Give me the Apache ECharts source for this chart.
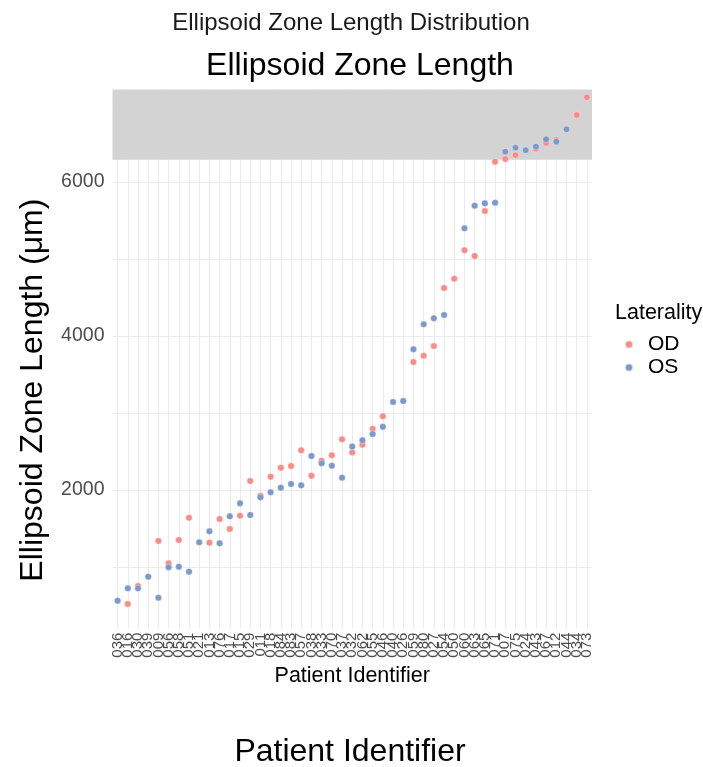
<!DOCTYPE html>
<html>
<head>
<meta charset="utf-8">
<script src="https://cdn.jsdelivr.net/npm/echarts@6/dist/echarts.min.js"></script>
<style>
  html, body { margin: 0; padding: 0; background: #fff; }
  #chart { width: 703px; height: 767px; }
</style>
</head>
<body>
<div id="chart"></div>
<script>
// Patient identifiers, ordered by ellipsoid zone length
const patients = [
  '036','016','030','039','009','056','058','051','021','013',
  '076','017','015','029','011','018','084','083','057','038',
  '033','070','037','032','062','055','046','040','026','059',
  '080','027','054','050','060','063','065','071','007','075',
  '024','043','067','012','044','034','073'
];

// Right eye (OD) lengths in µm, null where not measured
const odValues = [
  null, 520, 753, null, 1338, 1048, 1351, 1640, null, 1316,
  1623, 1494, 1666, 2117, 1926, 2173, 2290, 2312, 2515, 2186,
  2381, 2451, 2658, 2488, 2588, 2796, 2957, null, null, 3662,
  3744, 3870, 4623, 4744, 5113, 5039, 5623, 6264, 6299, 6347,
  null, 6433, 6506, 6545, null, 6870, 7100
];

// Left eye (OS) lengths in µm
const osValues = [
  562, 723, 723, 874, 601, 996, 1004, 939, 1321, 1463,
  1308, 1658, 1827, 1675, 1905, 1970, 2030, 2078, 2061, 2442,
  2346, 2316, 2160, 2565, 2645, 2727, 2822, 3143, 3156, 3827,
  4152, 4230, 4273, null, 5398, 5692, 5723, 5731, 6394, 6446,
  6412, 6459, 6554, 6524, 6684, null, null
];

const yTickLabels = [2000, 4000, 6000];
const yGridValues = [1000, 2000, 3000, 4000, 5000, 6000, 7000];
const stripFrom = 6290;

const FONT = '"Liberation Sans", Arial, Helvetica, sans-serif';
const RED = '#F98C87';
const BLUE = '#7B99C9';

const chart = echarts.init(document.getElementById('chart'), null, { renderer: 'canvas' });

const gridLines = yGridValues.map(v => ({ yAxis: v }))
  .concat(patients.map(p => ({ xAxis: p })));

chart.setOption({
  animation: false,
  backgroundColor: '#ffffff',
  textStyle: { fontFamily: FONT },
  title: [
    {
      text: 'Ellipsoid Zone Length Distribution',
      left: 346, top: 6, textAlign: 'center',
      textStyle: { fontSize: 24, fontWeight: 'normal', color: '#1a1a1a', fontFamily: FONT }
    },
    {
      text: 'Ellipsoid Zone Length',
      left: 355, top: 45, textAlign: 'center',
      textStyle: { fontSize: 32, fontWeight: 'normal', color: '#000', fontFamily: FONT }
    },
    {
      text: 'Patient Identifier',
      left: 345, top: 731, textAlign: 'center',
      textStyle: { fontSize: 32, fontWeight: 'normal', color: '#000', fontFamily: FONT }
    },
    {
      text: 'Laterality',
      left: 610, top: 297,
      textStyle: { fontSize: 21.5, fontWeight: 'normal', color: '#000', fontFamily: FONT }
    }
  ],
  legend: {
    orient: 'vertical',
    left: 619, top: 329,
    itemWidth: 8, itemHeight: 8, itemGap: 2,
    icon: 'circle',
    textStyle: { fontSize: 21, color: '#000', fontFamily: FONT, padding: [0, 0, 0, 10] },
    data: ['OD', 'OS']
  },
  grid: { left: 112.5, right: 111, top: 89.6, bottom: 138.4, containLabel: false },
  xAxis: {
    type: 'category',
    data: patients,
    boundaryGap: true,
    name: 'Patient Identifier',
    nameLocation: 'middle',
    nameGap: 36,
    nameTextStyle: { fontSize: 21.5, color: '#000', fontFamily: FONT },
    axisLine: { show: false },
    axisTick: { show: false },
    splitLine: { show: false },
    axisLabel: {
      interval: 0, rotate: 90, margin: 4,
      fontSize: 15, color: '#4d4d4d', fontFamily: FONT
    }
  },
  yAxis: {
    type: 'value',
    min: 200, max: 7200,
    name: 'Ellipsoid Zone Length (μm)',
    nameLocation: 'middle',
    nameRotate: 90,
    nameGap: 63,
    nameTextStyle: { fontSize: 32, color: '#000', fontFamily: FONT, padding: [0, 62, 0, 0] },
    axisLine: { show: false },
    axisTick: { show: false },
    splitLine: { show: false },
    axisLabel: {
      customValues: yTickLabels,
      formatter: v => String(v),
      margin: 8,
      fontSize: 19.5, color: '#4d4d4d', fontFamily: FONT
    }
  },
  series: [
    {
      // panel grid lines and the grey band across the top of the panel
      type: 'scatter',
      data: [],
      silent: true,
      z: 1,
      markLine: {
        silent: true,
        symbol: 'none',
        label: { show: false },
        lineStyle: { color: '#ebebeb', width: 1.2, type: 'solid' },
        data: gridLines,
        z: 1
      },
      markArea: {
        silent: true,
        itemStyle: { color: '#d3d3d3' },
        data: [[{ yAxis: stripFrom }, { yAxis: 7200 }]],
        z: 2
      }
    },
    {
      name: 'OD',
      type: 'scatter',
      data: odValues,
      symbolSize: 6.5,
      z: 3,
      itemStyle: { color: RED, borderColor: 'rgba(255,255,255,0.6)', borderWidth: 0.6, opacity: 1 }
    },
    {
      name: 'OS',
      type: 'scatter',
      data: osValues,
      symbolSize: 6.5,
      z: 4,
      itemStyle: { color: BLUE, borderColor: 'rgba(255,255,255,0.6)', borderWidth: 0.6, opacity: 1 }
    }
  ]
});
</script>
</body>
</html>
